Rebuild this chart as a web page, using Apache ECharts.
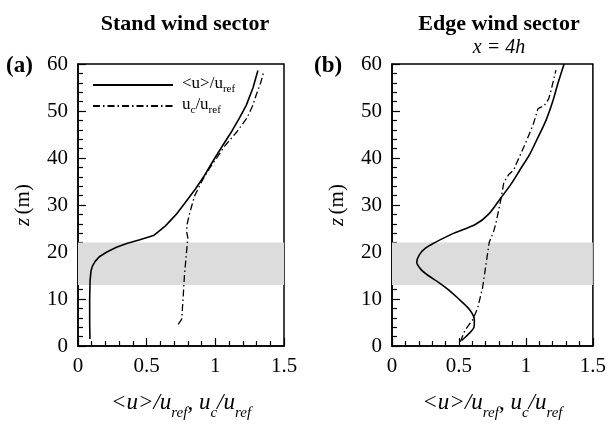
<!DOCTYPE html>
<html>
<head>
<meta charset="utf-8">
<script src="https://cdn.jsdelivr.net/npm/echarts@6/dist/echarts.min.js"></script>
<style>
  html, body { margin: 0; padding: 0; background: #fff; }
  #chart { width: 609px; height: 426px; }
</style>
</head>
<body>
<div id="chart"></div>
<script>
// Vertical velocity profiles, normalised by the reference velocity.
// Each profile is given as heights z (m) with matching normalised velocities.

// (a) Stand wind sector
const standMeanZ = [1.5, 5, 10, 14, 16, 17, 18, 19, 20, 21, 21.8, 22.6, 23.5, 25.5, 28, 30.5, 33.4, 36, 39.2, 42.5, 45.7, 48.5, 51.2, 55, 58.6];
const standMeanU = [0.087, 0.085, 0.085, 0.088, 0.095, 0.105, 0.125, 0.155, 0.21, 0.28, 0.355, 0.45, 0.55, 0.635, 0.715, 0.78, 0.855, 0.915, 0.98, 1.05, 1.12, 1.175, 1.225, 1.275, 1.31];
const standConvZ = [4.6, 5.7, 10, 15, 20, 23, 24.5, 26, 28.6, 32, 35.5, 37.9, 40, 42.6, 45.7, 48.5, 51, 53.6, 56, 58.6];
const standConvU = [0.73, 0.755, 0.765, 0.775, 0.79, 0.8, 0.79, 0.795, 0.816, 0.85, 0.91, 0.96, 1.01, 1.07, 1.16, 1.23, 1.27, 1.3, 1.33, 1.355];

// (b) Edge wind sector, x = 4h
const edgeMeanZ = [1.2, 2.5, 4.0, 5.5, 7.7, 10.1, 12, 13.5, 15, 16.3, 17.8, 19.4, 20.8, 22, 23.8, 25.9, 28, 31.4, 34.5, 37.5, 40.9, 44.4, 48, 52, 55.5, 60];
const edgeMeanU = [0.52, 0.57, 0.612, 0.615, 0.58, 0.495, 0.42, 0.35, 0.27, 0.216, 0.185, 0.204, 0.25, 0.32, 0.446, 0.625, 0.72, 0.81, 0.89, 0.956, 1.03, 1.09, 1.15, 1.2, 1.235, 1.285];
const edgeConvZ = [0.9, 3.3, 5.7, 8.1, 12.5, 17, 22.1, 24.2, 25.9, 28, 30.7, 34.8, 36.5, 37.5, 38.9, 42.7, 47.1, 50.5, 51.2, 52.6, 54.3, 58.7];
const edgeConvU = [0.51, 0.544, 0.605, 0.64, 0.677, 0.70, 0.726, 0.757, 0.774, 0.79, 0.81, 0.835, 0.872, 0.91, 0.93, 0.99, 1.054, 1.09, 1.138, 1.17, 1.187, 1.224];

// Canopy layer shown as a shaded band (m)
const canopyBand = [13, 22];

// Axis ranges and tick steps
const xRange = [0, 1.5], xStep = 0.5;
const zRange = [0, 60], zStep = 10;

const SERIF = 'Liberation Serif, Times New Roman, serif';
const pairs = (us, zs) => us.map((u, i) => [u, zs[i]]);

const xName = '{i|<u>/u}{s|ref}{i|, u}{s|c}{i|/u}{s|ref}';
const xNameStyle = {
  rich: {
    i: { fontFamily: SERIF, fontStyle: 'italic', fontSize: 23, lineHeight: 23, verticalAlign: 'top', color: '#000' },
    s: { fontFamily: SERIF, fontStyle: 'italic', fontSize: 15, lineHeight: 30, verticalAlign: 'bottom', color: '#000' }
  }
};
const yName = '{i|z} {n|(m)}';
const yNameStyle = {
  rich: {
    i: { fontFamily: SERIF, fontStyle: 'italic', fontSize: 21, color: '#000' },
    n: { fontFamily: SERIF, fontSize: 21, color: '#000' }
  }
};

function makeX(gridIndex) {
  return {
    type: 'value', gridIndex, min: xRange[0], max: xRange[1], interval: xStep,
    name: xName, nameLocation: 'middle', nameGap: 45, nameTextStyle: xNameStyle,
    axisLine: { show: true, lineStyle: { color: '#000', width: 1.5 } },
    axisTick: { show: true, inside: true, length: 8, lineStyle: { color: '#000', width: 1.2 } },
    minorTick: { show: true, splitNumber: 5, length: 5, lineStyle: { color: '#000', width: 1.2 } },
    splitLine: { show: false },
    axisLabel: { fontFamily: SERIF, fontSize: 21, color: '#000', margin: 10 }
  };
}
function makeY(gridIndex, gap) {
  return {
    type: 'value', gridIndex, min: zRange[0], max: zRange[1], interval: zStep,
    name: yName, nameLocation: 'middle', nameRotate: 90, nameGap: gap, nameTextStyle: yNameStyle,
    axisLine: { show: true, lineStyle: { color: '#000', width: 1.5 } },
    axisTick: { show: true, inside: true, length: 8, lineStyle: { color: '#000', width: 1.2 } },
    minorTick: { show: true, splitNumber: 5, length: 5, lineStyle: { color: '#000', width: 1.2 } },
    splitLine: { show: false },
    axisLabel: { fontFamily: SERIF, fontSize: 21, color: '#000', margin: 10 }
  };
}

const meanLine = { color: '#000', width: 1.6, type: 'solid' };
const convLine = { color: '#000', width: 1.3, type: [7, 3, 1.5, 3] };

function band(xi, yi) {
  return {
    type: 'line', xAxisIndex: xi, yAxisIndex: yi, data: [], z: 1, silent: true,
    markArea: {
      silent: true,
      itemStyle: { color: '#dcdcdc' },
      data: [[{ yAxis: canopyBand[0] }, { yAxis: canopyBand[1] }]]
    }
  };
}

const chart = echarts.init(document.getElementById('chart'), null, { renderer: 'canvas' });
chart.setOption({
  animation: false,
  backgroundColor: '#fff',
  title: [
    { text: 'Stand wind sector', left: 180, top: 8, textAlign: 'center',
      textStyle: { fontFamily: SERIF, fontWeight: 'bold', fontSize: 22, color: '#000' } },
    { text: 'Edge wind sector', left: 494, top: 8, textAlign: 'center',
      textStyle: { fontFamily: SERIF, fontWeight: 'bold', fontSize: 22, color: '#000' } },
    { text: 'x = 4h', left: 494, top: 33, textAlign: 'center',
      textStyle: { fontFamily: SERIF, fontStyle: 'italic', fontWeight: 'normal', fontSize: 20, color: '#000' } },
    { text: '(a)', left: 1, top: 50,
      textStyle: { fontFamily: SERIF, fontWeight: 'bold', fontSize: 23, color: '#000' } },
    { text: '(b)', left: 309, top: 50,
      textStyle: { fontFamily: SERIF, fontWeight: 'bold', fontSize: 23, color: '#000' } }
  ],
  legend: {
    data: ['mean', 'conv'],
    orient: 'vertical',
    left: 87, top: 70,
    itemWidth: 80, itemHeight: 14, itemGap: 1,
    itemStyle: { opacity: 0 },
    formatter: n => n === 'mean' ? '{sp|}{m|<u>/u}{s|ref}' : '{sp|}{m|u}{s|c}{m|/u}{s|ref}',
    textStyle: {
      rich: {
        sp: { width: 4 },
        m: { fontFamily: SERIF, fontSize: 17, lineHeight: 17, verticalAlign: 'top', color: '#000' },
        s: { fontFamily: SERIF, fontSize: 11, lineHeight: 20, verticalAlign: 'bottom', color: '#000' }
      }
    },
    selectedMode: false
  },
  grid: [
    { left: 78, top: 64, width: 206, height: 292, show: true, borderColor: '#000', borderWidth: 1.5, backgroundColor: 'transparent' },
    { left: 392, top: 64, width: 206, height: 293, show: true, borderColor: '#000', borderWidth: 1.5, backgroundColor: 'transparent' }
  ],
  xAxis: [makeX(0), makeX(1)],
  yAxis: [makeY(0, 44), makeY(1, 44)],
  series: [
    band(0, 0),
    band(1, 1),
    { name: 'mean', type: 'line', xAxisIndex: 0, yAxisIndex: 0, z: 3, symbol: 'none',
      data: pairs(standMeanU, standMeanZ), lineStyle: meanLine, itemStyle: { color: '#000' } },
    { name: 'conv', type: 'line', xAxisIndex: 0, yAxisIndex: 0, z: 3, symbol: 'none',
      data: pairs(standConvU, standConvZ), lineStyle: convLine, itemStyle: { color: '#000' } },
    { name: 'mean', type: 'line', xAxisIndex: 1, yAxisIndex: 1, z: 3, symbol: 'none', smooth: 0.3,
      data: pairs(edgeMeanU, edgeMeanZ), lineStyle: meanLine, itemStyle: { color: '#000' } },
    { name: 'conv', type: 'line', xAxisIndex: 1, yAxisIndex: 1, z: 3, symbol: 'none',
      data: pairs(edgeConvU, edgeConvZ), lineStyle: convLine, itemStyle: { color: '#000' } }
  ]
});
</script>
</body>
</html>
